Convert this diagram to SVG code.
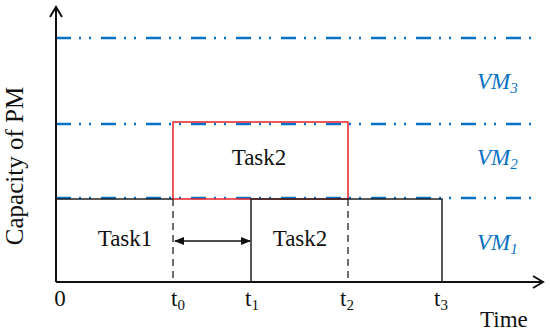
<svg xmlns="http://www.w3.org/2000/svg" width="550" height="336" viewBox="0 0 550 336" font-family="'Liberation Serif', 'Times New Roman', serif">
<style>
.lbl{font-family:"Liberation Serif","Times New Roman",serif;font-size:23px;fill:#111}
.vm{font-family:"Liberation Serif","Times New Roman",serif;font-size:23px;font-style:italic;fill:#0a72c4}
.vline{stroke:#0a72c4;stroke-width:2.5;stroke-dasharray:15 8 2 8 2 10;fill:none}
.blk{stroke:#222;stroke-width:1.5;fill:none}
.dash{stroke:#222;stroke-width:1.3;stroke-dasharray:7 5;fill:none}
.axis{stroke:#111;stroke-width:2;fill:none}
</style>
<defs>
<marker id="ah" viewBox="0 0 10 10" refX="9" refY="5" markerWidth="10" markerHeight="10" markerUnits="userSpaceOnUse" orient="auto-start-reverse">
<path d="M0,1 L10,5 L0,9 Z" fill="#111"/>
</marker>
</defs>
<g id="vm-lines">
<line class="vline" x1="56" y1="38" x2="536" y2="38"/>
<line class="vline" x1="56" y1="124" x2="536" y2="124"/>
<line class="vline" x1="56" y1="198" x2="536" y2="198"/>
</g>
<g id="axes">
<line class="axis" x1="56" y1="282" x2="56" y2="7"/>
<path class="axis" d="M50,17 L56,7 L62,17"/>
<line class="axis" x1="56" y1="282" x2="543" y2="282"/>
<path class="axis" d="M533,276 L543,282 L533,288"/>
</g>
<g id="task1">
<line class="blk" x1="56" y1="199" x2="173" y2="199"/>
<text class="lbl" x="125" y="246" text-anchor="middle">Task1</text>
</g>
<g id="task2-top">
<rect x="173" y="122" width="175" height="77" fill="none" stroke="#e8222a" stroke-width="1.5"/>
<text class="lbl" x="259" y="165" text-anchor="middle">Task2</text>
</g>
<g id="task2-bottom">
<path class="blk" d="M251,282 L251,199 L442,199 L442,282"/>
<text class="lbl" x="300" y="246" text-anchor="middle">Task2</text>
</g>
<g id="connectors">
<line class="dash" x1="173" y1="199" x2="173" y2="282"/>
<line class="dash" x1="348" y1="199" x2="348" y2="282"/>
<line stroke="#111" stroke-width="1.3" x1="175" y1="241" x2="250" y2="241" marker-start="url(#ah)" marker-end="url(#ah)"/>
</g>
<g id="labels">
<text class="lbl" x="18" y="166" transform="rotate(-90 18 166)" dy="5" text-anchor="middle" style="font-size:25px">Capacity of PM</text>
<text class="lbl" x="60" y="306" text-anchor="middle">0</text>
<text class="lbl" x="171" y="306">t<tspan font-size="15" dy="4">0</tspan></text>
<text class="lbl" x="245" y="306">t<tspan font-size="15" dy="4">1</tspan></text>
<text class="lbl" x="340" y="306">t<tspan font-size="15" dy="4">2</tspan></text>
<text class="lbl" x="434" y="306">t<tspan font-size="15" dy="4">3</tspan></text>
<text class="lbl" x="480" y="327">Time</text>
<text class="vm" x="477" y="89">VM<tspan font-size="15" dy="4">3</tspan></text>
<text class="vm" x="477" y="165">VM<tspan font-size="15" dy="4">2</tspan></text>
<text class="vm" x="477" y="250">VM<tspan font-size="15" dy="4">1</tspan></text>
</g>
</svg>
